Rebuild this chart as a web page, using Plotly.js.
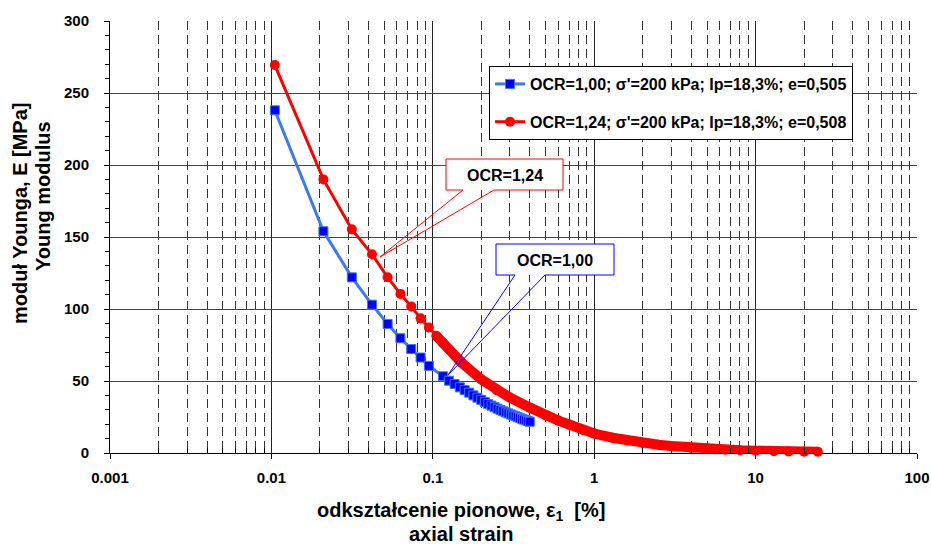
<!DOCTYPE html>
<html>
<head>
<meta charset="utf-8">
<script src="https://cdn.plot.ly/plotly-3.0.1.min.js"></script>
<style>html,body{margin:0;padding:0;background:#fff;}#chart{width:931px;height:544px;}</style>
</head>
<body>
<div id="chart"></div>
<script>
// ---- data ----
const strainBlue = [0.0105, 0.021, 0.0315, 0.042, 0.0525, 0.063, 0.0735, 0.084, 0.0945,
  0.1155, 0.126, 0.1365, 0.147, 0.1575, 0.168, 0.1785, 0.189, 0.1995, 0.21, 0.2205, 0.231,
  0.2415, 0.252, 0.2625, 0.273, 0.2835, 0.294, 0.3045, 0.315, 0.3255, 0.336, 0.3465, 0.357,
  0.3675, 0.378, 0.3885, 0.399];
const modulusBlue = [238, 154, 122, 103, 89.6, 79.7, 72.2, 66.3, 60.5,
  53.3, 50.2, 47.9, 45.6, 43.7, 41.9, 40.0, 38.4, 36.9, 35.4, 34.0, 32.9,
  31.8, 30.8, 29.9, 29.0, 28.2, 27.5, 26.8, 26.1, 25.5, 24.9, 24.3, 23.7,
  23.2, 22.7, 22.2, 21.7];

const strainRed = [0.0105, 0.021, 0.0315, 0.042, 0.0525, 0.063, 0.0735, 0.084, 0.0945,
  0.105, 0.1155, 0.126, 0.15, 0.2, 0.25, 0.3, 0.4, 0.5, 0.6, 0.7, 0.85, 1.0, 1.3, 1.6,
  2.0, 2.5, 3.0, 4.0, 5.0, 6.5, 8.0, 10, 13, 16, 20, 24.3];
const modulusRed = [269.4, 190, 155.3, 138, 122, 110.5, 101.8, 93.5, 87.1,
  81.4, 76.5, 72.0, 63.0, 51.0, 43.5, 38.5, 31.5, 26.0, 22.5, 19.8, 16.0, 13.5, 10.6, 8.7,
  7.0, 5.7, 4.8, 3.5, 2.9, 2.3, 1.9, 1.6, 1.3, 1.1, 0.95, 0.9];

const xTickVals = [0.001, 0.01, 0.1, 1, 10, 100];
const xTickText = ['0.001', '0.01', '0.1', '1', '10', '100'];
const legendBlue = "OCR=1,00; σ'=200 kPa; Ip=18,3%; e=0,505";
const legendRed = "OCR=1,24; σ'=200 kPa; Ip=18,3%; e=0,508";
const calloutRed = 'OCR=1,24';
const calloutBlue = 'OCR=1,00';
const xTitle1 = 'odkształcenie pionowe, ε<sub>1</sub>  [%]';
const xTitle2 = 'axial strain';
const yTitle1 = 'moduł Younga, E [MPa]';
const yTitle2 = 'Young modulus';

// ---- layout helpers (pixel -> paper) ----
const L = 110, R = 917, T = 21, B = 453;
const W = 931, H = 544;
const px = v => (v - L) / (R - L);
const py = v => (B - v) / (B - T);

const minorVals = [];
for (let e = -3; e <= 1; e++) {
  for (let d = 2; d <= 9; d++) minorVals.push(d * Math.pow(10, e));
}

const FONT = 'Liberation Sans, Arial, sans-serif';
const boldFont = (size, color) => ({family: FONT, size: size, color: color || 'black', weight: 'bold'});

const traces = [
  {
    x: strainRed.slice(9), y: modulusRed.slice(9),
    mode: 'lines', line: {color: '#FF0000', width: 10},
    showlegend: false, legendgroup: 'r', hoverinfo: 'skip', cliponaxis: false
  },
  {
    x: strainRed, y: modulusRed, name: legendRed,
    mode: 'lines+markers', legendgroup: 'r', legendrank: 2,
    line: {color: '#FF0000', width: 3},
    marker: {symbol: 'circle', size: 10, color: '#FF0000', line: {color: '#FF0000', width: 0}},
    cliponaxis: false
  },
  {
    x: strainBlue, y: modulusBlue, name: legendBlue,
    mode: 'lines+markers', legendgroup: 'b', legendrank: 1,
    line: {color: '#3B78F5', width: 3},
    marker: {symbol: 'square', size: 9, color: '#0000FF', line: {color: '#3B78F5', width: 1}},
    cliponaxis: false
  }
];

function calloutShapes(x0, y0, x1, y1, b1, b2, tx, ty, color) {
  return [
    {type: 'rect', xref: 'paper', yref: 'paper', x0: px(x0), x1: px(x1), y0: py(y1), y1: py(y0),
     fillcolor: 'white', line: {width: 0}, layer: 'above'},
    {type: 'path', xref: 'paper', yref: 'paper', layer: 'above',
     path: `M ${px(b1)},${py(y1)} L ${px(x0)},${py(y1)} L ${px(x0)},${py(y0)} L ${px(x1)},${py(y0)} ` +
           `L ${px(x1)},${py(y1)} L ${px(b2)},${py(y1)} L ${px(tx)},${py(ty)} Z`,
     fillcolor: 'rgba(0,0,0,0)', line: {color: color, width: 1}}
  ];
}

const shapes = [].concat(
  calloutShapes(446, 159, 563, 190, 463, 494, 380, 257, '#FF0000'),
  calloutShapes(496, 244, 614, 275, 515, 545, 448, 375, '#0000FF')
);

const annotations = [
  {text: calloutRed, xref: 'paper', yref: 'paper', x: px(504.5), y: py(175), showarrow: false,
   xanchor: 'center', yanchor: 'middle', font: boldFont(16)},
  {text: calloutBlue, xref: 'paper', yref: 'paper', x: px(555), y: py(260), showarrow: false,
   xanchor: 'center', yanchor: 'middle', font: boldFont(16)},
  {text: xTitle1, xref: 'paper', yref: 'paper', x: px(461), y: py(512), showarrow: false,
   xanchor: 'center', yanchor: 'middle', font: boldFont(20)},
  {text: xTitle2, xref: 'paper', yref: 'paper', x: px(461), y: py(534), showarrow: false,
   xanchor: 'center', yanchor: 'middle', font: boldFont(20)},
  {text: yTitle1, xref: 'paper', yref: 'paper', x: px(20), y: py(214), showarrow: false,
   textangle: -90, xanchor: 'center', yanchor: 'middle', font: boldFont(20)},
  {text: yTitle2, xref: 'paper', yref: 'paper', x: px(43), y: py(196), showarrow: false,
   textangle: -90, xanchor: 'center', yanchor: 'middle', font: boldFont(20)}
];

const layout = {
  width: W, height: H,
  margin: {l: L, r: W - R, t: T, b: H - B, pad: 0},
  paper_bgcolor: 'white', plot_bgcolor: 'white',
  showlegend: true,
  hovermode: false,
  xaxis: {
    type: 'log', range: [-3, 2],
    tickmode: 'array', tickvals: xTickVals, ticktext: xTickText,
    ticks: 'outside', ticklen: 5, tickcolor: 'black', tickwidth: 1,
    showgrid: true, gridcolor: '#222', gridwidth: 1,
    showline: true, linecolor: 'black', linewidth: 1, zeroline: false,
    tickfont: boldFont(15), ticklabelstandoff: 6,
    minor: {tickmode: 'array', tickvals: minorVals, ticks: 'inside', ticklen: 5,
            tickcolor: 'black', tickwidth: 1,
            showgrid: true, gridcolor: '#333', gridwidth: 1, griddash: '9px,5px'}
  },
  yaxis: {
    range: [0, 300], tickmode: 'linear', tick0: 0, dtick: 50,
    ticks: 'outside', ticklen: 5, tickcolor: 'black', tickwidth: 1,
    showgrid: true, gridcolor: '#444', gridwidth: 1,
    showline: true, linecolor: 'black', linewidth: 1, zeroline: false,
    tickfont: boldFont(15), ticklabelstandoff: 12,
    minor: {dtick: 10, ticks: 'outside', ticklen: 4, tickcolor: 'black', tickwidth: 1, showgrid: false}
  },
  legend: {
    x: px(489), y: py(66), xanchor: 'left', yanchor: 'top',
    bgcolor: 'white', bordercolor: 'black', borderwidth: 1,
    font: boldFont(16), traceorder: 'grouped', tracegroupgap: 14,
    itemwidth: 30
  },
  shapes: shapes,
  annotations: annotations
};

Plotly.newPlot('chart', traces, layout, {displayModeBar: false, staticPlot: true});
</script>
</body>
</html>
